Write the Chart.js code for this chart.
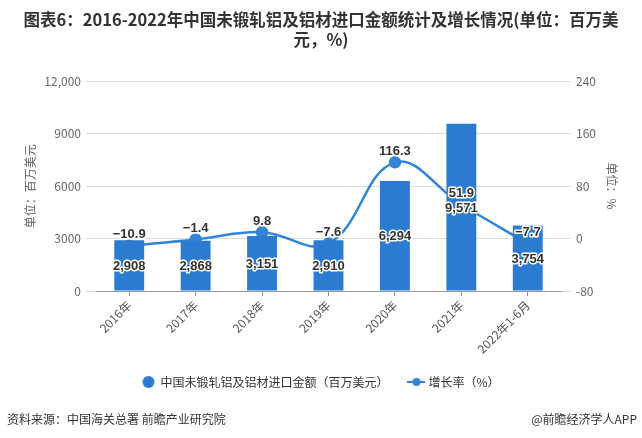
<!DOCTYPE html>
<html>
<head>
<meta charset="utf-8">
<script src="https://cdn.jsdelivr.net/npm/chart.js@4.4.1/dist/chart.umd.min.js"></script>
<style>
    html, body { margin: 0; padding: 0; background: #fff; }
    #wrap { position: relative; width: 642px; height: 438px; }
    .foot { position: absolute; top: 410px; font: 12px "Noto Sans CJK SC", sans-serif; color: #333; }
</style>
</head>
<body>
<div id="wrap">
    <canvas id="chart" width="642" height="438"></canvas>
    <div class="foot" style="left: 7px;">资料来源：中国海关总署 前瞻产业研究院</div>
    <div class="foot" style="right: 5px;">@前瞻经济学人APP</div>
</div>
<script>
const years = ['2016年', '2017年', '2018年', '2019年', '2020年', '2021年', '2022年1-6月'];
const importValues = [2908, 2868, 3151, 2910, 6294, 9571, 3754];
const growthRates = [-10.9, -1.4, 9.8, -7.6, 116.3, 51.9, -7.7];
const leftTickLabels = {0: '0', 3000: '3000', 6000: '6000', 9000: '9000', 12000: '12,000'};

const FONT = '"Noto Sans CJK SC", "Noto Sans", sans-serif';
const BAR_BLUE = '#2b7bd1';
const LINE_BLUE = '#3384d6';

// legend icons
function makeIcon(kind) {
    const c = document.createElement('canvas');
    c.width = 18; c.height = 12;
    const g = c.getContext('2d');
    g.fillStyle = kind === 'bar' ? BAR_BLUE : LINE_BLUE;
    if (kind === 'bar') {
        g.beginPath(); g.arc(9, 6, 6, 0, Math.PI * 2); g.fill();
    } else {
        g.strokeStyle = LINE_BLUE; g.lineWidth = 2;
        g.beginPath(); g.moveTo(0, 6); g.lineTo(18, 6); g.stroke();
        g.beginPath(); g.arc(9, 6, 4, 0, Math.PI * 2); g.fill();
    }
    return c;
}
const barIcon = makeIcon('bar');
const lineIcon = makeIcon('line');

function fmt(v, comma) {
    let s = comma ? Math.abs(v).toLocaleString('en-US') : Math.abs(v).toFixed(1);
    return (v < 0 ? '\u2212' : '') + s;
}

const valueLabels = {
    id: 'valueLabels',
    afterDatasetsDraw(chart) {
        const ctx = chart.ctx;
        ctx.save();
        ctx.font = 'bold 13px "Liberation Sans", Arial, sans-serif';
        ctx.textAlign = 'center';
        ctx.textBaseline = 'middle';
        ctx.lineJoin = 'round';
        chart.data.datasets.forEach((ds, di) => {
            const meta = chart.getDatasetMeta(di);
            meta.data.forEach((el, i) => {
                let x = el.x, y;
                let text;
                if (ds.type === 'bar') {
                    y = (el.y + el.base) / 2 + 1;
                    text = fmt(ds.data[i], true);
                } else {
                    y = el.y - 11;
                    text = fmt(ds.data[i], false);
                }
                ctx.strokeStyle = '#fff';
                ctx.lineWidth = 3;
                ctx.strokeText(text, x, y);
                ctx.fillStyle = '#333';
                ctx.fillText(text, x, y);
            });
        });
        ctx.restore();
    }
};

new Chart(document.getElementById('chart'), {
    data: {
        labels: years,
        datasets: [
            {
                type: 'bar',
                label: '中国未锻轧铝及铝材进口金额（百万美元）',
                data: importValues,
                backgroundColor: BAR_BLUE,
                yAxisID: 'y',
                barPercentage: 0.9,
                categoryPercentage: 0.5,
                order: 1
            },
            {
                type: 'line',
                label: '增长率（%）',
                data: growthRates,
                borderColor: LINE_BLUE,
                backgroundColor: LINE_BLUE,
                borderWidth: 2.5,
                pointRadius: 5,
                pointHoverRadius: 5,
                tension: 0.4,
                yAxisID: 'y1',
                order: 2
            }
        ]
    },
    options: {
        responsive: false,
        animation: false,
        layout: { padding: { left: 15, right: 15, top: 0, bottom: 40 } },
        scales: {
            x: {
                grid: { display: true, drawOnChartArea: false, offset: false, tickLength: 5, color: '#999' },
                border: { color: '#999' },
                ticks: { color: '#555', font: { size: 12, family: FONT }, minRotation: 45, maxRotation: 45, padding: 2 },
                afterFit: (s) => { s.height = 63; }
            },
            y: {
                position: 'left',
                min: 0, max: 12000,
                ticks: { stepSize: 3000, color: '#666', padding: 5, font: { size: 12, family: FONT },
                    callback: (v) => leftTickLabels[v] },
                grid: { color: '#dcdcdc', tickLength: 10 },
                border: { display: false },
                title: { display: true, text: '单位：百万美元', color: '#666', font: { size: 12, family: FONT }, padding: { top: 8, bottom: 0 } },
                afterFit: (s) => { s.width = 81; }
            },
            y1: {
                position: 'right',
                min: -80, max: 240,
                ticks: { stepSize: 80, color: '#666', padding: 5, font: { size: 12, family: FONT } },
                grid: { color: '#dcdcdc', tickLength: 10, drawOnChartArea: false },
                border: { display: false },
                title: { display: true, text: '单位：%', color: '#666', font: { size: 12, family: FONT }, padding: { top: 8, bottom: 0 } },
                afterFit: (s) => { s.width = 66; }
            }
        },
        plugins: {
            title: {
                display: true,
                text: ['图表6：2016-2022年中国未锻轧铝及铝材进口金额统计及增长情况(单位：百万美', '元，%)'],
                color: '#333',
                font: { size: 16.5, weight: 'bold', family: FONT, lineHeight: 1.22 },
                padding: { top: 10, bottom: 31 }
            },
            legend: {
                position: 'bottom',
                labels: {
                    usePointStyle: true,
                    boxWidth: 18,
                    boxHeight: 12,
                    padding: 22,
                    color: '#333',
                    font: { size: 12, family: FONT },
                    generateLabels: (chart) => chart.data.datasets.map((ds, i) => ({
                        text: ds.label,
                        pointStyle: ds.type === 'bar' ? barIcon : lineIcon,
                        fillStyle: ds.backgroundColor,
                        strokeStyle: ds.backgroundColor,
                        lineWidth: 0,
                        datasetIndex: i,
                        fontColor: '#333'
                    }))
                }
            },
            tooltip: { enabled: false }
        }
    },
    plugins: [valueLabels]
});
</script>
</body>
</html>
